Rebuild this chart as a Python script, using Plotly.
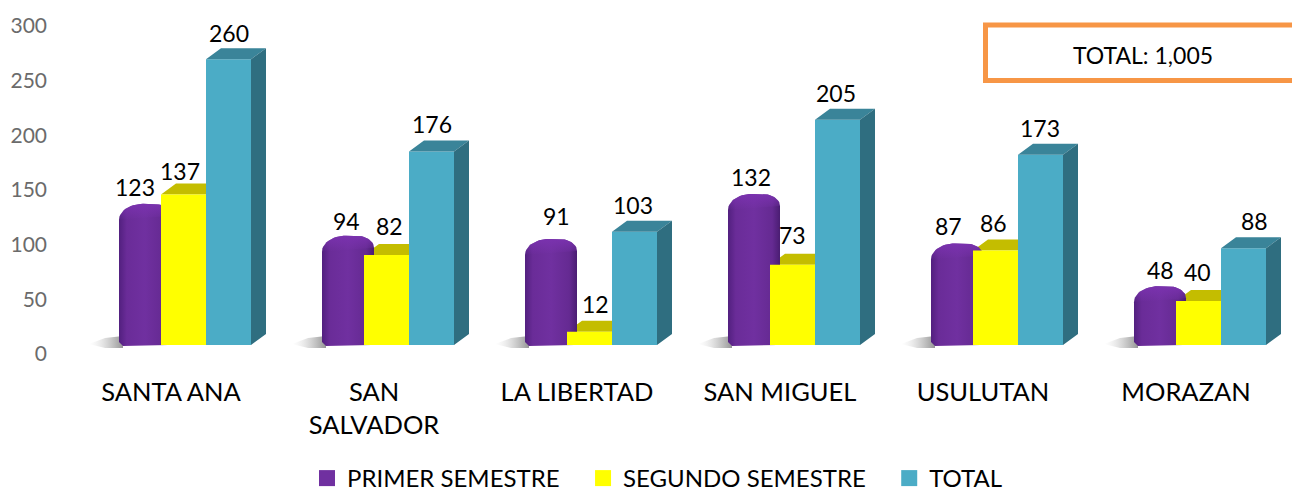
import numpy as np
import plotly.graph_objects as go

# ---- data ----
categories = ["SANTA ANA", "SAN<br>SALVADOR", "LA LIBERTAD", "SAN MIGUEL", "USULUTAN", "MORAZAN"]
primer = [123, 94, 91, 132, 87, 48]
segundo = [137, 82, 12, 73, 86, 40]
total = [260, 176, 103, 205, 173, 88]
y_ticks = [0, 50, 100, 150, 200, 250, 300]
names = ["PRIMER SEMESTRE", "SEGUNDO SEMESTRE", "TOTAL"]
total_label = "TOTAL: 1,005"

# ---- layout helpers ----
W, H = 1292, 520               # taller than the window so the legend keeps its place; page clips at 493
L, T, B = 54, 10, 360
SX, SY = 203.0, 1.099          # px per category / px per value (bars)
BASE_PX = 345
C0 = 171
xr = [(L - C0) / SX, (W - C0) / SX]
y2r = [(BASE_PX - B) / SY, (BASE_PX - T) / SY]
tick0, tickS = 354, 1.0933
y1r = [(tick0 - B) / tickS, (tick0 - T) / tickS]
dx = lambda p: p / SX
dy = lambda p: p / SY
pos = list(range(len(categories)))

PURPLE, YEL, TEAL = "#7030A0", "#FFFF00", "#4BACC6"
YEL_TOP, TEAL_TOP, TEAL_SIDE = "#C4BD00", "#3A8499", "#2F6E80"
DEPTH_X, DEPTH_Y, BW = 15, 11, 45

fig = go.Figure()


def poly(xs, ys, color, yaxis):
    fig.add_trace(go.Scatter(x=xs, y=ys, mode="lines", line=dict(width=0), fill="toself",
                             fillcolor=color, yaxis=yaxis, showlegend=False, hoverinfo="skip"))


# shadows + yellow tops + cylinders (lowest layer)
for i in pos:
    xs = [i + dx(-82), i + dx(-66), i + dx(-48), i + dx(-48), i + dx(-66), i + dx(-82)]
    ys = [dy(1), dy(7), dy(9), dy(-3), dy(-3), dy(1)]
    fig.add_trace(go.Scatter(
        x=xs, y=ys, mode="lines", line=dict(width=0), fill="toself", yaxis="y2",
        fillgradient=dict(type="horizontal", colorscale=[[0, "rgba(225,225,225,0)"], [0.6, "rgba(185,185,185,0.7)"],
                                                         [1, "rgba(130,130,130,0.85)"]]),
        showlegend=False, hoverinfo="skip"))

cap_x, cap_y = [], []
for i, v in zip(pos, segundo):
    cap_x += [i + dx(-10), i + dx(-10 + DEPTH_X), i + dx(40), i + dx(40), i + dx(-10), None]
    cap_y += [v, v + dy(DEPTH_Y), v + dy(DEPTH_Y), v, v, None]
poly(cap_x, cap_y, YEL_TOP, "y2")

t = np.linspace(0, np.pi / 2, 16)
for i, v in zip(pos, primer):
    x0, x1 = -52, 0
    top, shl, shr = dy(6), dy(-10), dy(-6)
    lx = x0 + 24 * (1 - np.cos(t))
    ly = shl + (top - shl) * np.sin(t)
    rx = x1 - 18 * (1 - np.cos(t[::-1]))
    ry = shr + (top - shr) * np.sin(t[::-1])
    px = [x0 + 4, x0] + list(lx) + list(rx) + [x1, x1 - 3, x0 + 4]
    py = [dy(-1), dy(3)] + list(v + ly) + list(v + ry) + [dy(3), 0, dy(-1)]
    fig.add_trace(go.Scatter(
        x=[i + dx(p) for p in px], y=py, mode="lines", line=dict(width=0), fill="toself", yaxis="y2",
        fillgradient=dict(type="horizontal", colorscale=[[0, "#52207F"], [0.15, "#6A2C98"], [0.5, "#7030A0"],
                                                         [0.85, "#652A92"], [1, "#4A1D72"]]),
        showlegend=False, hoverinfo="skip"))
    # lighter cap that fades into the body
    fig.add_trace(go.Scatter(
        x=[i + dx(p) for p in list(lx) + list(rx)], y=list(v + ly) + list(v + ry), mode="lines",
        line=dict(width=0), fill="toself", yaxis="y2",
        fillgradient=dict(type="vertical", colorscale=[[0, "rgba(122,50,174,0)"], [1, "rgba(122,50,174,1)"]]),
        showlegend=False, hoverinfo="skip"))

# real bars (top layer)
fig.add_trace(go.Bar(x=[i + dx(12.5) for i in pos], y=segundo, width=dx(BW), marker=dict(color=YEL, line=dict(width=0)),
                     yaxis="y3", showlegend=False, hoverinfo="skip"))
fig.add_trace(go.Bar(x=[i + dx(57.5) for i in pos], y=total, width=dx(BW), marker=dict(color=TEAL, line=dict(width=0)),
                     yaxis="y3", showlegend=False, hoverinfo="skip"))
tx, ty, sx_, sy_ = [], [], [], []
for i, v in zip(pos, total):
    a, b = i + dx(35), i + dx(80)
    tx += [a, a + dx(DEPTH_X), b + dx(DEPTH_X), b, a, None]
    ty += [v, v + dy(DEPTH_Y), v + dy(DEPTH_Y), v, v, None]
    sx_ += [b, b + dx(DEPTH_X), b + dx(DEPTH_X), b, b, None]
    sy_ += [v, v + dy(DEPTH_Y), dy(DEPTH_Y), 0, v, None]
poly(tx, ty, TEAL_TOP, "y3")
poly(sx_, sy_, TEAL_SIDE, "y3")

# legend entries (trailing no-break spaces widen the gap between entries)
for n, c in zip(names, [PURPLE, YEL, TEAL]):
    fig.add_trace(go.Scatter(x=[None], y=[None], mode="markers", name=n + "\u00a0\u00a0\u00a0",
                             marker=dict(symbol="square", size=16, color=c)))

# value labels
FONT = "Lato, Carlito, Calibri, sans-serif"
lab_off = {
    "p": ([-10, -2, 5, -3, -9, 0], [23, 21, 29, 23, 23, 22], -26),
    "s": ([-4, 3, 6, 0, -2, -1], [23, 29, 28, 30, 27, 29], 12.5),
    "t": ([0, 0, -2, -2, -1, 11], [26, 28, 27, 27, 27, 27], 57.5),
}
for key, vals in (("p", primer), ("s", segundo), ("t", total)):
    xs_, ys_, cx = lab_off[key]
    for i, v, a, b in zip(pos, vals, xs_, ys_):
        fig.add_annotation(x=i + dx(cx), y=v, xref="x", yref="y3", text=str(v), showarrow=False,
                           xshift=a, yshift=b, yanchor="middle", xanchor="center",
                           font=dict(family=FONT, size=23, color="#000000"))

# total box
fig.add_shape(type="rect", xref="paper", yref="paper",
              x0=(985.5 - L) / (W - L), x1=1.02, y0=(B - 80.5) / (B - T), y1=(B - 25) / (B - T),
              line=dict(color="#F79646", width=5), fillcolor="#FFFFFF", layer="above")
fig.add_annotation(xref="paper", yref="paper", x=(1143 - L) / (W - L), y=(B - 55) / (B - T), text=total_label,
                   xanchor="center", yanchor="middle", showarrow=False,
                   font=dict(family=FONT, size=23, color="#000000"))

fig.update_layout(
    width=W, height=H, margin=dict(l=L, r=0, t=T, b=H - B),
    paper_bgcolor="white", plot_bgcolor="white", barmode="overlay",
    xaxis=dict(range=xr, tickmode="array", tickvals=pos, ticktext=categories, showgrid=False, zeroline=False,
               showline=False, ticks="", ticklabelstandoff=14,
               tickfont=dict(family=FONT, size=25.5, color="#000000")),
    yaxis=dict(range=y1r, tickmode="array", tickvals=y_ticks, showgrid=False, zeroline=False, showline=False,
               ticks="", ticklabelstandoff=6, tickfont=dict(family=FONT, size=21, color="#6b6b6b")),
    yaxis2=dict(range=y2r, overlaying="y", visible=False),
    yaxis3=dict(range=y2r, overlaying="y", visible=False),
    legend=dict(orientation="h", x=(307 - L) / (W - L), xref="paper", y=(B - 478.5) / (B - T), yref="paper",
                yanchor="middle", font=dict(family=FONT, size=24, color="#000000"), itemwidth=30,
                bgcolor="rgba(0,0,0,0)"),
    showlegend=True,
)

fig.write_html("out.html", config={"displayModeBar": False},
               post_script="document.documentElement.style.overflow='hidden';document.body.style.margin='0';document.body.style.overflow='hidden';")
